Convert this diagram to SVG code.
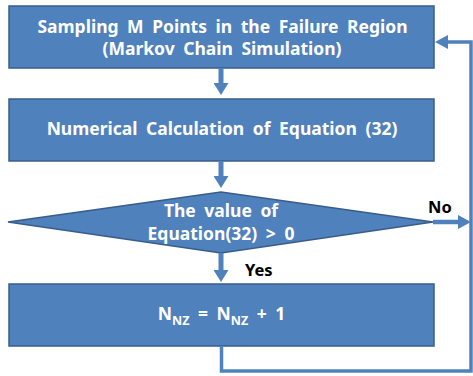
<svg xmlns="http://www.w3.org/2000/svg" width="473" height="376" viewBox="0 0 473 376">
<style>
.box{fill:#4F81BD;stroke:#385D8A;stroke-width:1.5}
.wt{fill:#fff;font-family:"Noto Sans","Liberation Sans",sans-serif;font-weight:bold;font-size:17.5px;text-anchor:middle;word-spacing:4px}
.bt{fill:#000;font-family:"Noto Sans","Liberation Sans",sans-serif;font-weight:bold;font-size:16.5px}
.con{fill:none;stroke:#4F81BD}
</style>
<defs>
<marker id="ah" markerUnits="userSpaceOnUse" markerWidth="12" markerHeight="15" refX="0" refY="7.5" orient="auto">
<path d="M0,0 L12,7.5 L0,15 z" fill="#4F81BD"/>
</marker>
<marker id="ah2" markerUnits="userSpaceOnUse" markerWidth="13" markerHeight="14" refX="0" refY="7" orient="auto">
<path d="M0,0 L13,7 L0,14 z" fill="#4F81BD"/>
</marker>
</defs>
<g id="n1">
<rect class="box" x="9" y="6" width="425" height="62"/>
<text class="wt" x="222.5" y="32.5">Sampling M Points in the Failure Region</text>
<text class="wt" x="222" y="55">(Markov Chain Simulation)</text>
</g>
<g id="n2">
<rect class="box" x="9" y="99" width="425" height="62"/>
<text class="wt" x="222" y="135">Numerical Calculation of Equation (32)</text>
</g>
<g id="n3">
<polygon class="box" points="8,222 221,192 433,222 221,253"/>
<text class="wt" x="221" y="216.5">The value of</text>
<text class="wt" x="221" y="240">Equation(32) &gt; 0</text>
</g>
<g id="n4">
<rect class="box" x="9" y="284" width="425" height="62"/>
<text class="wt" x="221.5" y="320">N<tspan font-size="12.5" dy="5">NZ</tspan><tspan dy="-5"> = N</tspan><tspan font-size="12.5" dy="5">NZ</tspan><tspan dy="-5"> + 1</tspan></text>
</g>
<g id="connectors">
<line class="con" x1="221" y1="68" x2="221" y2="83" stroke-width="5" marker-end="url(#ah)"/>
<line class="con" x1="221" y1="161" x2="221" y2="176" stroke-width="5" marker-end="url(#ah)"/>
<line class="con" x1="221" y1="253" x2="221" y2="270" stroke-width="5" marker-end="url(#ah)"/>
<line class="con" x1="433" y1="222" x2="458" y2="222" stroke-width="4.5" marker-end="url(#ah2)"/>
<polyline class="con" points="221.5,346 221.5,371 471,371 471,42 448,42" stroke-width="3.5" marker-end="url(#ah2)"/>
<text class="bt" x="428" y="213">No</text>
<text class="bt" x="245" y="275.5">Yes</text>
</g>
</svg>
